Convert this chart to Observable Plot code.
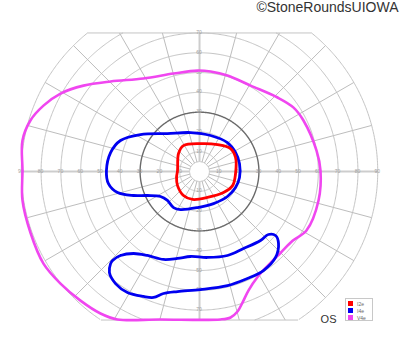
<!DOCTYPE html>
<html><head><meta charset="utf-8">
<script src="https://cdn.jsdelivr.net/npm/d3@7"></script>
<script src="https://cdn.jsdelivr.net/npm/@observablehq/plot@0.6"></script>
<style>
body{margin:0;background:#fff;font-family:"Liberation Sans",Arial,sans-serif;}
#wrap{position:relative;width:400px;height:352px;}
#legend{position:absolute;left:345px;top:298px;width:28px;height:23px;border:1px solid #c8c8c8;box-sizing:border-box;background:#fff;}
.row{position:absolute;left:2px;height:6px;font-size:5px;line-height:6px;color:#666;}
.sw{display:inline-block;width:5px;height:5px;vertical-align:top;margin-right:4px;}
</style></head>
<body><div id="wrap"></div>
<script>
// ---- data (visual field degrees: x = horizontal, y = vertical, + up) ----
const isopterNames = ["I2e", "I4e", "V4e"];
const isopterColors = ["#ff0000", "#0000f0", "#f046f0"];
const i2eX = [-11.1,-10.6,-8.1,0.5,9.1,15.7,18.2,18.2,16.7,12.1,4.0,-3.5,-8.1,-11.1,-11.6];
const i2eY = [0.5,9.1,13.1,14.1,13.6,11.6,7.1,-1.0,-7.1,-10.6,-13.1,-14.1,-12.1,-7.1,-3.0];
const i4eCentralX = [-47.0,-44.9,-39.9,-29.8,-16.2,-4.5,5.6,14.1,18.2,20.2,20.2,18.2,14.1,7.1,-1.0,-9.6,-13.1,-16.2,-19.7,-26.3,-33.3,-41.4,-46.0];
const i4eCentralY = [0.5,9.6,15.7,18.7,19.2,19.7,18.2,14.6,9.6,4.0,-3.0,-8.1,-12.6,-16.2,-18.2,-19.2,-18.2,-14.6,-12.6,-12.1,-12.1,-10.6,-6.1];
const i4eIslandX = [-43.9,-39.9,-33.3,-26.3,-18.2,-11.1,-4.5,4.0,14.1,22.2,30.8,34.8,38.4,39.9,38.4,32.3,24.2,14.1,0.5,-11.1,-18.2,-23.2,-28.3,-36.4,-42.4,-45.5,-44.9];
const i4eIslandY = [-44.9,-42.4,-41.4,-42.4,-44.4,-43.9,-42.9,-43.4,-42.4,-38.9,-34.8,-31.8,-32.3,-36.4,-43.4,-50.0,-54.0,-57.6,-59.6,-60.6,-61.6,-63.6,-63.1,-61.1,-56.6,-51.0,-46.5];
const v4eX = [-85.4,-78.8,-70.2,-58.6,-44.9,-28.3,-13.1,-1.0,5.6,14.1,25.8,39.4,47.5,52.5,59.1,61.1,60.1,54.0,47.0,41.0,35.0,29.5,24.7,21.7,19.2,15.7,10.6,-20.0,-41.4,-50.0,-60.1,-70.2,-78.8,-85.4,-89.4,-89.4,-89.4];
const v4eY = [25.8,33.3,39.4,43.4,45.5,47.0,49.5,51.0,50.5,48.5,43.4,37.4,32.3,25.8,10.6,0.5,-14.6,-29.8,-35.0,-41.0,-47.0,-53.0,-60.1,-66.2,-70.7,-73.7,-74.7,-74.7,-74.7,-71.7,-65.2,-56.6,-46.5,-30.8,-14.6,0.5,15.7];
// ---- chart frame parameters ----
const rings = [5, 10, 20, 30, 40, 50, 60, 70, 80, 90];
const boldRing = 30;
const meridianStep = 15;
const topLimit = 70, bottomLimit = -75, maxEcc = 90;
const hLabels = [10, 20, 30, 40, 50, 60, 70, 80, 90];
const vLabels = [10, 20, 30, 40, 50, 60, 70];

const inside = (x, y) => y <= topLimit + 1e-6 && y >= bottomLimit - 1e-6;
const ringPts = [];
for (const r of rings) {
  for (let a = 0; a <= 360; a += 0.5) {
    const t = a * Math.PI / 180, x = r * Math.cos(t), y = r * Math.sin(t);
    ringPts.push(inside(x, y) ? {r, x, y} : {r, x: NaN, y: NaN});
  }
}
const spokes = [];
for (let a = 0; a < 360; a += meridianStep) {
  const t = a * Math.PI / 180, s = Math.sin(t), c = Math.cos(t);
  let re = maxEcc;
  if (s > 1e-9) re = Math.min(re, topLimit / s);
  if (s < -1e-9) re = Math.min(re, -bottomLimit / -s);
  spokes.push({a, x1: rings[0] * c, y1: rings[0] * s, x2: re * c, y2: re * s, axis: a % 90 === 0});
}
const topHalf = Math.sqrt(maxEcc ** 2 - topLimit ** 2), botHalf = Math.sqrt(maxEcc ** 2 - bottomLimit ** 2);
const edges = [
  {x1: -topHalf, y1: topLimit, x2: topHalf, y2: topLimit},
  {x1: -botHalf, y1: bottomLimit, x2: botHalf, y2: bottomLimit}
];
const labels = [];
for (const v of hLabels) { labels.push({x: -v, y: 0, t: v, dy: 0}); labels.push({x: v, y: 0, t: v, dy: 0}); }
for (const v of vLabels) { labels.push({x: 0, y: v, t: v, dy: -2}); labels.push({x: 0, y: -v, t: v, dy: 3}); }

const mk = (xs, ys, name) => xs.map((x, i) => ({x, y: ys[i], name}));
const i2e = mk(i2eX, i2eY, "I2e");
const i4eA = mk(i4eCentralX, i4eCentralY, "I4e");
const i4eB = mk(i4eIslandX, i4eIslandY, "I4e");
const v4e = mk(v4eX, v4eY, "V4e");
const col = Object.fromEntries(isopterNames.map((n, i) => [n, isopterColors[i]]));

const chart = Plot.plot({
  width: 400, height: 352,
  margin: 0,
  x: {domain: [-100.5, 101.5], axis: null},
  y: {domain: [-91.4, 86.4], axis: null},
  style: {background: "#fff"},
  marks: [
    Plot.line(ringPts.filter(d => d.r !== boldRing), {x: "x", y: "y", z: "r", stroke: "#c4c4c4", strokeWidth: 1}),
    Plot.link(spokes.filter(d => !d.axis), {x1: "x1", y1: "y1", x2: "x2", y2: "y2", stroke: "#bdbdbd", strokeWidth: 1}),
    Plot.link(spokes.filter(d => d.axis), {x1: "x1", y1: "y1", x2: "x2", y2: "y2", stroke: "#cdcdcd", strokeWidth: 2}),
    Plot.link(edges, {x1: "x1", y1: "y1", x2: "x2", y2: "y2", stroke: "#c4c4c4", strokeWidth: 1}),
    Plot.line(ringPts.filter(d => d.r === boldRing), {x: "x", y: "y", stroke: "#6a6a6a", strokeWidth: 1.4}),
    Plot.text(labels, {x: "x", y: "y", text: "t", dy: "dy", fontSize: 5, fill: "#a0a0a0", fontFamily: "Liberation Sans"}),
    Plot.line(v4e, {x: "x", y: "y", stroke: col["V4e"], strokeWidth: 2.6, curve: "catmull-rom-closed"}),
    Plot.line(i4eB, {x: "x", y: "y", stroke: col["I4e"], strokeWidth: 2.8, curve: "catmull-rom-closed"}),
    Plot.line(i4eA, {x: "x", y: "y", stroke: col["I4e"], strokeWidth: 2.8, curve: "catmull-rom-closed"}),
    Plot.line(i2e, {x: "x", y: "y", stroke: col["I2e"], strokeWidth: 2.8, curve: "catmull-rom-closed"}),
    Plot.text(["©StoneRoundsUIOWA"], {frameAnchor: "top-right", textAnchor: "end", lineAnchor: "top", dx: -2, dy: 2, fontSize: 14, fill: "#333", fontFamily: "Liberation Sans"}),
    Plot.text(["OS"], {frameAnchor: "bottom-right", textAnchor: "end", lineAnchor: "bottom", dx: -64, dy: -30, fontSize: 11, fill: "#333", fontFamily: "Liberation Sans"})
  ]
});
const wrap = document.getElementById("wrap");
wrap.appendChild(chart);
const lg = document.createElement("div");
lg.id = "legend";
isopterNames.forEach((n, i) => {
  const row = document.createElement("div");
  row.className = "row";
  row.style.top = (2 + i * 7) + "px";
  row.innerHTML = `<span class="sw" style="background:${isopterColors[i]}"></span>${n}`;
  lg.appendChild(row);
});
wrap.appendChild(lg);
</script></body></html>
